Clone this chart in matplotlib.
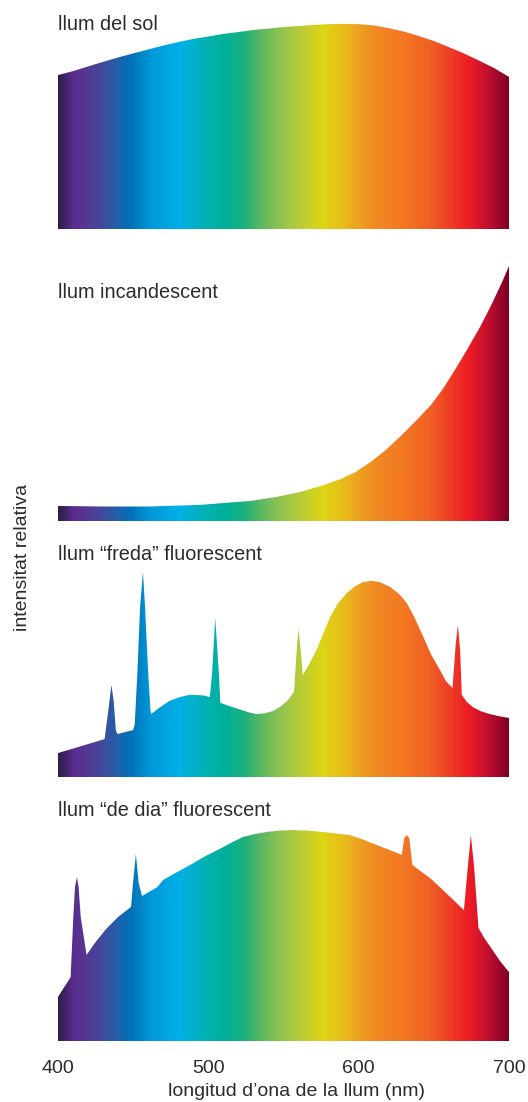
import numpy as np
import matplotlib.pyplot as plt
from matplotlib.colors import LinearSegmentedColormap

plt.rcParams['font.family'] = ['Liberation Sans', 'DejaVu Sans']

# llum del sol
sun_nm = [400, 410, 420, 430, 440, 450, 460, 470, 480, 490, 500, 510, 520, 530, 540, 550,
          560, 570, 580, 590, 600, 610, 620, 630, 640, 650, 660, 670, 680, 690, 700]
sun_val = [58.3, 59.8, 61.6, 63.3, 65.0, 66.5, 68.0, 69.5, 70.8, 72.0, 72.9, 73.9, 74.6,
           75.4, 75.9, 76.5, 76.9, 77.3, 77.6, 77.7, 77.6, 77.1, 76.1, 74.8, 73.1, 71.2,
           68.9, 66.5, 63.8, 61.0, 57.6]

# llum incandescent
inc_nm = [400, 430, 461, 494, 528, 545, 561, 575, 588, 598, 608, 618, 628, 638, 648,
          656, 664, 668, 672, 676, 680, 684, 688, 692, 696, 700]
inc_val = [9.1, 8.9, 8.9, 9.5, 11.0, 12.5, 14.4, 16.7, 19.3, 22.0, 25.8, 30.3, 35.6, 41.3,
           47.3, 53.4, 60.6, 64.4, 68.2, 72.2, 76.1, 80.5, 85.0, 89.8, 94.7, 100.0]

# llum "freda" fluorescent
cool_nm = [400, 431, 433.5, 435.5, 437, 438.5, 439.5, 450, 451, 452.8, 454.6, 456.5, 457.9,
           460, 461.5, 462, 468, 474, 481, 487, 492, 497, 501, 502.5, 504.6, 507, 508,
           514, 521, 527, 532, 537, 543, 548, 553, 557, 559, 560, 561.5, 562.8, 566, 572,
           576, 581, 586, 592, 598, 603, 608, 614, 621, 627, 632, 637, 643, 648, 654, 658,
           662.4, 664.5, 666, 667.5, 668.6, 672, 676, 681, 687, 693, 700]
cool_val = [12.1, 17.4, 28.4, 37.9, 32.0, 20.8, 19.3, 20.8, 22.7, 42.4, 67.4, 80.7, 67.4,
            42.4, 28.4, 26.9, 29.5, 31.8, 33.3, 34.1, 34.1, 33.9, 33.3, 42.4, 63.3, 42.4, 31.1,
            29.9, 28.6, 27.5, 26.9, 27.1, 28.0, 29.7, 32.2, 35.2, 53.0, 59.1, 51.1, 41.7, 44.7,
            51.1, 56.8, 63.6, 68.6, 72.7, 75.4, 76.9, 77.3, 76.9, 75.0, 72.3, 68.9, 63.6,
            56.1, 49.6, 43.6, 39.4, 36.7, 53.0, 60.6, 51.1, 34.1, 31.4, 29.5, 28.0, 26.9,
            26.1, 25.4]

# llum "de dia" fluorescent
day_nm = [400, 408.4, 410.2, 411.3, 412.6, 413.7, 415.1, 419, 425, 432.6, 440, 448.6, 449.9,
          451.8, 453.7, 455.9, 466, 470, 478, 488, 497, 506, 515, 523, 531, 539, 547, 556,
          566, 576, 585, 594, 603, 612, 620, 628.7, 630.3, 632, 633.7, 635.7, 641, 647.5,
          654, 661, 665, 670, 672.6, 674.6, 676.8, 679.7, 684, 689, 694, 700]
day_val = [16.7, 24.2, 47.0, 58.3, 62.1, 58.3, 47.0, 32.6, 37.5, 42.8, 47.0, 50.8, 59.8,
           70.8, 59.8, 54.9, 58.3, 61.0, 63.6, 66.7, 69.7, 72.3, 75.0, 77.3, 78.4, 79.2, 79.7,
           79.9, 79.7, 79.2, 78.6, 78.0, 76.3, 74.2, 72.5, 70.5, 76.9, 78.0, 76.9, 66.7, 64.4,
           61.7, 58.3, 54.5, 52.3, 49.6, 65.9, 78.0, 65.9, 42.8, 38.6, 34.5, 30.3, 26.1]

titles = ['llum del sol', 'llum incandescent',
          'llum “freda” fluorescent', 'llum “de dia” fluorescent']
ticks = [400, 500, 600, 700]

# gradient stops for the visible spectrum
stops = [(400, '#2d1f4d'), (410, '#5b2d90'), (423, '#4f3f96'), (437, '#2a5ca6'),
         (448, '#0072b8'), (461, '#0098d8'), (481, '#00b0e6'), (499, '#00b2b0'),
         (511, '#00b09a'), (524, '#1db07a'), (536, '#60b860'), (548, '#90c450'),
         (561, '#b8cc38'), (576, '#dcd514'), (588, '#e6c018'), (598, '#eca820'),
         (611, '#f08a22'), (628, '#f37a22'), (648, '#f06024'), (674, '#ed1c24'),
         (687, '#c01030'), (700, '#800024')]
cmap = LinearSegmentedColormap.from_list('spectrum', [((n - 400) / 300, c) for n, c in stops])

W, H = 528, 1102
fig = plt.figure(figsize=(W / 100, H / 100), dpi=100)

series = [(sun_nm, sun_val), (inc_nm, inc_val), (cool_nm, cool_val), (day_nm, day_val)]
bottoms = [229, 530, 785, 1041]
title_y = [30, 298, 560, 816]
txt = '#2b2b2b'

for i, (nm, val) in enumerate(series):
    ax = fig.add_axes([58 / W, 1 - bottoms[i] / H, (509 - 58) / W, 264 / H])
    ax.set_xlim(400, 700)
    ax.set_ylim(0, 100)
    grad = np.linspace(0, 1, 800).reshape(1, -1)
    im = ax.imshow(grad, cmap=cmap, extent=[400, 700, 0, 100], aspect='auto',
                   interpolation='bilinear', origin='lower')
    poly = ax.fill_between(nm, 0, val, facecolor='none', edgecolor='none')
    im.set_clip_path(poly.get_paths()[0], transform=ax.transData)
    for s in ax.spines.values():
        s.set_visible(False)
    ax.set_yticks([])
    if i == 3:
        ax.set_xticks(ticks)
        ax.tick_params(axis='x', length=0, pad=14, labelsize=14, labelcolor=txt)
    else:
        ax.set_xticks([])
    fig.text(58 / W, 1 - title_y[i] / H, titles[i], va='baseline', ha='left',
             fontsize=14.3, color=txt)

fig.text(23 / W, 1 - 557 / H, 'intensitat relativa', rotation=90, va='center',
         ha='center', fontsize=14, color=txt)
fig.text(296 / W, 1 - 1092 / H, 'longitud d’ona de la llum (nm)', va='center',
         ha='center', fontsize=14, color=txt)

fig.savefig('out.png', dpi=100)
